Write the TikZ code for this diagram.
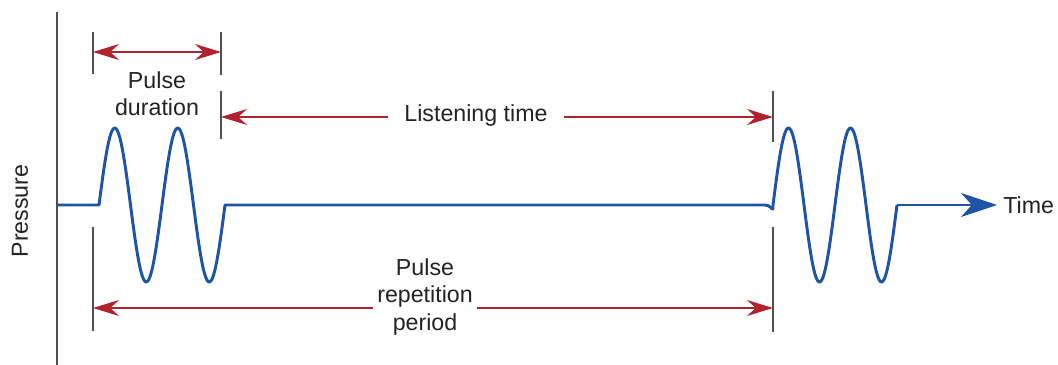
\documentclass[tikz,border=0pt]{standalone}
\usepackage{fontspec}
\setmainfont{Liberation Sans}
\usepackage{xcolor}
\usetikzlibrary{arrows.meta}

\definecolor{waveblue}{RGB}{30,84,166}
\definecolor{dimred}{RGB}{178,34,46}
\definecolor{tickgray}{RGB}{80,80,80}
\definecolor{textgray}{RGB}{35,35,35}

\begin{document}
\begin{tikzpicture}[x=0.025cm, y=-0.025cm,
		signal/.style={draw=waveblue, line width=2.1pt, line join=round},
		dimline/.style={draw=dimred, line width=1.3pt, >={Stealth[length=6.5mm, width=4mm, inset=2.2mm]}},
		tickline/.style={draw=tickgray, line width=1.3pt},
		lbl/.style={text=textgray, font=\fontsize{16.5}{19.5}\selectfont, align=center}]
		\useasboundingbox (0,0) rectangle (1058,365);

		% Pressure axis
		\draw[tickline] (57,12) -- (57,365);
		\node[lbl, rotate=90] (pressure_label) at (20,211) {Pressure};

		% Tick marks
		\coordinate (t1_top) at (93,32);   \coordinate (t1_top_end) at (93,74);
		\coordinate (t1_bot) at (93,227);  \coordinate (t1_bot_end) at (93,331);
		\coordinate (t2_top) at (221,32);  \coordinate (t2_top_end) at (221,75);
		\coordinate (t2_mid) at (221,91);  \coordinate (t2_mid_end) at (221,139);
		\coordinate (t3_mid) at (773,91);  \coordinate (t3_mid_end) at (773,142);
		\coordinate (t3_bot) at (773,227); \coordinate (t3_bot_end) at (773,332);
		\foreach \a in {t1_top, t1_bot, t2_top, t2_mid, t3_mid, t3_bot}
			\draw[tickline] (\a) -- (\a_end);

		% Pulse train (two cycles per pulse, 720 degrees over the pulse width)
		\coordinate (origin) at (57,205);
		\coordinate (p2_end) at (897,205);
		\draw[signal] (origin) -- (99,205)
			-- plot[domain=99:225, samples=120] (\x, {205-77*sin((\x-99)*5.714286)})
			-- (765,205) .. controls (770,205) and (771,209) .. (773,209)
			-- plot[domain=773:897, samples=120] (\x, {205-77*sin((\x-773)*5.806452)});
		\node[lbl, anchor=west, inner xsep=0.15cm, inner ysep=0pt] (time_label) at (997,205) {Time};
		\draw[signal, -{Stealth[length=9mm, width=6mm, inset=2.7mm]}] (p2_end) -- (time_label);

		% Pulse duration
		\coordinate (d_left) at (93,52);
		\coordinate (d_right) at (221,52);
		\draw[dimline, <->] (d_left) -- (d_right);
		\node[lbl] (dur_label) at (157,94) {Pulse\\duration};

		% Listening time
		\coordinate (l_left) at (221,117);
		\coordinate (l_right) at (773,117);
		\node[lbl, inner xsep=0.4cm] (listen_label) at (476,116) {Listening time};
		\draw[dimline, <-] (l_left) -- (l_left -| listen_label.west);
		\draw[dimline, ->] (l_right -| listen_label.east) -- (l_right);

		% Pulse repetition period
		\coordinate (p_left) at (93,308);
		\coordinate (p_right) at (773,308);
		\node[lbl, inner xsep=0.1cm] (prp_label) at (425,297) {Pulse\\repetition\\period};
		\draw[dimline, <-] (p_left) -- (p_left -| prp_label.west);
		\draw[dimline, ->] (p_right -| prp_label.east) -- (p_right);
	\end{tikzpicture}
\end{document}
